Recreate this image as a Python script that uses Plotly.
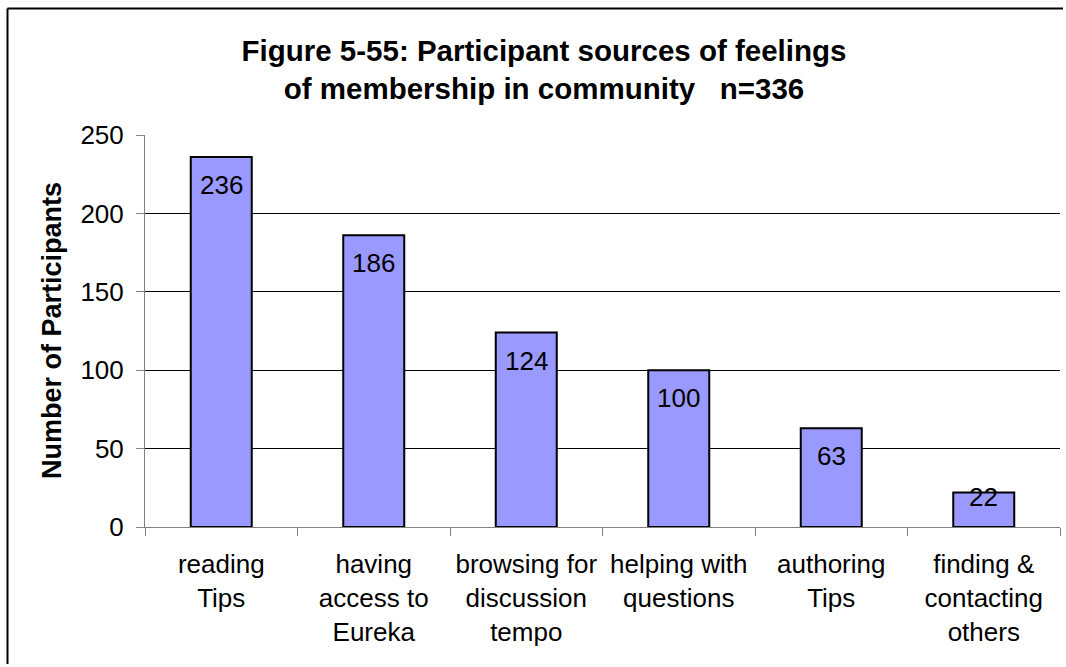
import plotly.graph_objects as go

# Chart data
categories = [
    "reading<br>Tips",
    "having<br>access to<br>Eureka",
    "browsing for<br>discussion<br>tempo",
    "helping with<br>questions",
    "authoring<br>Tips",
    "finding &<br>contacting<br>others",
]
participants = [236, 186, 124, 100, 63, 22]
y_ticks = [0, 50, 100, 150, 200, 250]

W, H = 1066, 667
M_L, M_R, M_T, M_B = 145, 6, 135, 140
plot_w = W - M_L - M_R
plot_h = H - M_T - M_B
y_max = 250
px_per_unit = plot_h / y_max

FONT = "Liberation Sans, Arial, sans-serif"
BAR_COLOR = "#9999FF"

fig = go.Figure()
fig.add_trace(go.Bar(
    x=categories,
    y=participants,
    width=0.4,
    marker=dict(color=BAR_COLOR, line=dict(color="black", width=2)),
    hoverinfo="skip",
))

# Value labels near the top inside each bar (kept above the axis for short bars)
annotations = []
for cat, val in zip(categories, participants):
    bar_px = val * px_per_unit
    offset = min(28, bar_px - 30)
    annotations.append(dict(
        x=cat, y=val, xref="x", yref="y",
        text=str(val), showarrow=False,
        yanchor="middle", xanchor="center", yshift=-offset,
        font=dict(family=FONT, size=26, color="black"),
    ))

# Y-axis title
annotations.append(dict(
    x=(52 - M_L) / plot_w, y=0.5, xref="paper", yref="paper",
    text="<b>Number of Participants</b>", textangle=-90, showarrow=False,
    xanchor="center", yanchor="middle",
    font=dict(family=FONT, size=27, color="black"),
))

# Outer chart frame: top and left edges, stopping short of the canvas border
fx0 = (7.5 - M_L) / plot_w
fx1 = (W - 3 - M_L) / plot_w
fy1 = (H - M_B - 8.5) / plot_h
fy0 = (3 - M_B) / plot_h
frame_lines = [
    dict(type="line", xref="paper", yref="paper", x0=fx0, x1=fx1, y0=fy1, y1=fy1,
         line=dict(color="black", width=2), layer="below"),
    dict(type="line", xref="paper", yref="paper", x0=fx0, x1=fx0, y0=fy0, y1=fy1,
         line=dict(color="black", width=2), layer="below"),
]

fig.update_layout(
    width=W, height=H,
    margin=dict(l=M_L, r=M_R, t=M_T, b=M_B),
    paper_bgcolor="white", plot_bgcolor="white",
    showlegend=False,
    title=dict(
        text="<b>Figure 5-55: Participant sources of feelings<br>of membership in community\u00a0\u00a0\u00a0n=336</b>",
        x=544 / W, xanchor="center",
        y=1 - 61 / H, yanchor="middle", yref="container",
        font=dict(family=FONT, size=29.5, color="black"),
    ),
    xaxis=dict(
        type="category",
        showline=True, linecolor="#808080", linewidth=1,
        ticks="outside", ticklen=8, tickcolor="#808080", tickson="boundaries",
        ticklabelstandoff=14,
        tickfont=dict(family=FONT, size=26, color="black"),
        showgrid=False, zeroline=False,
        range=[-0.5, len(categories) - 0.5],
    ),
    yaxis=dict(
        range=[0, y_max],
        tickvals=y_ticks, ticktext=[str(v) for v in y_ticks],
        showline=True, linecolor="#808080", linewidth=1,
        ticks="outside", ticklen=8, tickcolor="#808080",
        ticklabelstandoff=7,
        tickfont=dict(family=FONT, size=26, color="black"),
        showgrid=True, gridcolor="black", gridwidth=1,
        zeroline=False,
    ),
    annotations=annotations,
    shapes=frame_lines,
)

fig.write_html("out.html")
